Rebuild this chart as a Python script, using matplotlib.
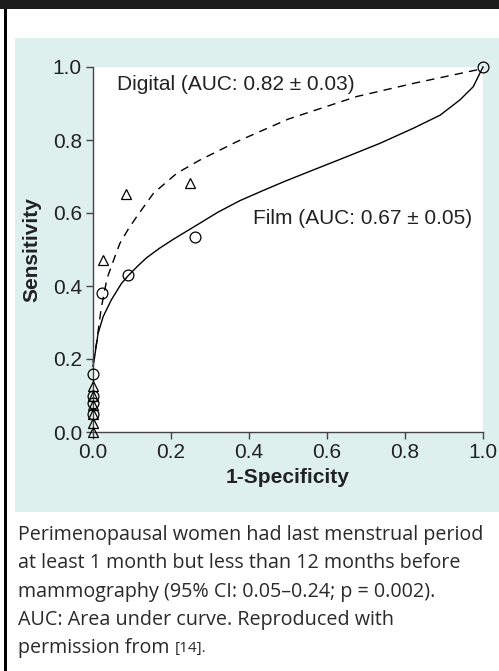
import matplotlib
matplotlib.use("Agg")
import matplotlib.pyplot as plt
from matplotlib.patches import Rectangle

plt.rcParams['font.family'] = ['Liberation Sans', 'DejaVu Sans']

# observed points
film_x = [0.0, 0.0, 0.0, 0.0, 0.024, 0.09, 0.262, 1.0]
film_y = [0.05, 0.08, 0.10, 0.16, 0.382, 0.43, 0.533, 1.0]
dig_x = [0.0, 0.0, 0.0, 0.0, 0.0, 0.0, 0.026, 0.085, 0.249]
dig_y = [0.0, 0.025, 0.05, 0.075, 0.10, 0.125, 0.47, 0.652, 0.681]

# fitted curves
film_cx = [0.0, 0.003, 0.013, 0.026, 0.047, 0.073, 0.09, 0.115, 0.137, 0.17, 0.206,
           0.24, 0.274, 0.32, 0.377, 0.437, 0.49, 0.565, 0.65, 0.736, 0.821, 0.89,
           0.941, 0.975, 0.992, 1.0]
film_cy = [0.18, 0.197, 0.27, 0.316, 0.362, 0.407, 0.428, 0.455, 0.477, 0.503, 0.528,
           0.55, 0.572, 0.602, 0.634, 0.662, 0.686, 0.718, 0.754, 0.791, 0.832, 0.868,
           0.91, 0.946, 0.983, 1.0]
dig_cx = [0.0, 0.009, 0.021, 0.036, 0.056, 0.069, 0.09, 0.112, 0.155, 0.215, 0.274,
          0.368, 0.50, 0.676, 0.821, 0.984, 1.0]
dig_cy = [0.19, 0.243, 0.339, 0.421, 0.48, 0.517, 0.555, 0.59, 0.654, 0.709, 0.745,
          0.795, 0.857, 0.919, 0.955, 0.992, 1.0]

ticks = [0.0, 0.2, 0.4, 0.6, 0.8, 1.0]
tick_labels = ["0.0", "0.2", "0.4", "0.6", "0.8", "1.0"]

caption = ["Perimenopausal women had last menstrual period",
           "at least 1 month but less than 12 months before",
           "mammography (95% CI: 0.05\u20130.24; p = 0.002).",
           "AUC: Area under curve. Reproduced with"]
cap_font = ['Open Sans', 'DejaVu Sans']
fs = 15
cap_fs = 14.2

W, H = 499, 671
fig = plt.figure(figsize=(W / 100, H / 100), dpi=100)

def fx(px):
    return px / W

def fy(py):
    return 1 - py / H

# header bar, left border, teal panel
fig.patches.append(Rectangle((0, fy(9)), 1, 9 / H, transform=fig.transFigure,
                             facecolor='#1b1b1b', edgecolor='none', zorder=-5))
fig.patches.append(Rectangle((fx(4), 0), 2.5 / W, fy(9), transform=fig.transFigure,
                             facecolor='black', edgecolor='none', zorder=-5))
fig.patches.append(Rectangle((fx(15), fy(512)), (W - 15) / W, (512 - 38) / H,
                             transform=fig.transFigure, facecolor='#ddf0ee',
                             edgecolor='none', zorder=-5))

ax = fig.add_axes([fx(93), fy(432), 390 / W, 365 / H])
ax.set_zorder(2)
ax.set_facecolor('white')
ax.set_xlim(0, 1)
ax.set_ylim(0, 1)

ax.plot(film_cx, film_cy, color='black', lw=1.0, clip_on=False)
ax.plot(dig_cx, dig_cy, color='black', lw=1.0, ls=(0, (6, 4.5)), clip_on=False)
ax.plot(film_x, film_y, ls='none', marker='o', ms=7.8, mfc='none', mec='black',
        mew=0.9, clip_on=False, zorder=5)
ax.plot(dig_x, dig_y, ls='none', marker='^', ms=7.5, mfc='none', mec='black',
        mew=0.9, clip_on=False, zorder=5)

ax.text(0.062, 0.953, "Digital (AUC: 0.82 \u00b1 0.03)", fontsize=fs,
        color='#222222', va='center')
ax.text(0.41, 0.586, "Film (AUC: 0.67 \u00b1 0.05)", fontsize=fs,
        color='#222222', va='center')

for s in ['top', 'right']:
    ax.spines[s].set_visible(False)
for s in ['left', 'bottom']:
    ax.spines[s].set_color('#444444')
    ax.spines[s].set_linewidth(1.0)
ax.set_xticks(ticks)
ax.set_xticklabels(tick_labels)
ax.set_yticks(ticks)
ax.set_yticklabels(tick_labels)
ax.tick_params(direction='out', length=5, width=1, color='#444444',
               labelsize=fs, labelcolor='#222222', pad=3)
ax.set_xlabel("1-Specificity", fontsize=fs, fontweight='bold', color='#222222',
              labelpad=4)
ax.set_ylabel("Sensitivity", fontsize=fs, fontweight='bold', color='#222222',
              labelpad=8)

for i, line in enumerate(caption):
    fig.text(fx(18), fy(535 + i * 28.3), line, fontsize=cap_fs, family=cap_font,
             color='#2a2a2a', va='center')
last = fig.text(fx(18), fy(535 + 4 * 28.3), "permission from ", fontsize=cap_fs,
                family=cap_font, color='#2a2a2a', va='center')
fig.canvas.draw()
bb = last.get_window_extent()
fig.text(bb.x1 / W, fy(535 + 4 * 28.3), "[14].", fontsize=11,
         family=cap_font, color='#2a2a2a', va='center')

fig.savefig("out.png", dpi=100)
